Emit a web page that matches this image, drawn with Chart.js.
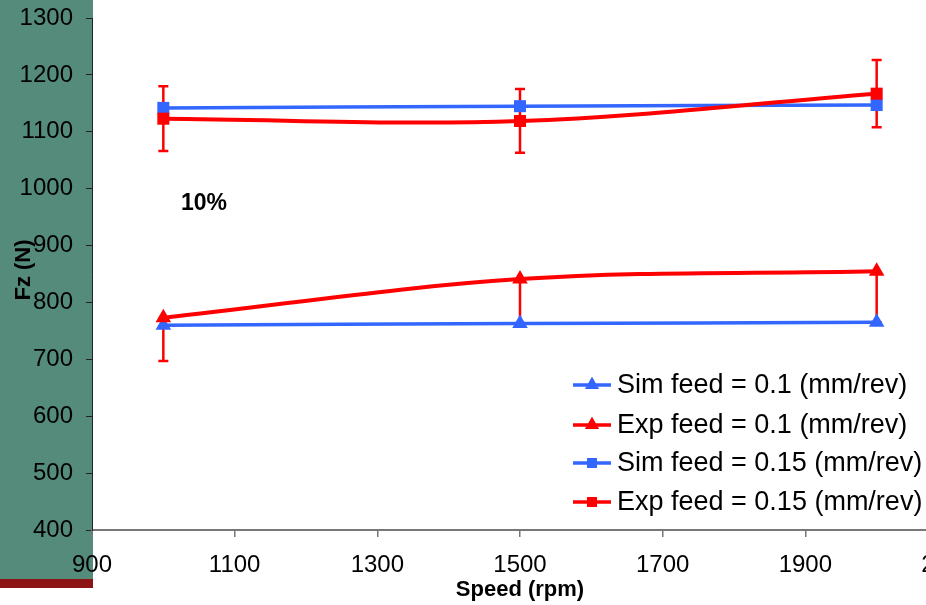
<!DOCTYPE html>
<html>
<head>
<meta charset="utf-8">
<title>Fz vs speed</title>
<script src="https://cdn.jsdelivr.net/npm/chart.js@4.4.1/dist/chart.umd.min.js"></script>
<style>
    html, body { margin: 0; padding: 0; background: #fff; overflow: hidden; }
    #wrap { width: 960px; height: 605px; }
</style>
</head>
<body>
<div id="wrap"><canvas id="fzChart" width="960" height="605"></canvas></div>
<script>
// Cutting speed (rpm) for every series
const speeds = [1000, 1500, 2000];

// Thrust force Fz (N)
const simFeed01 = [760, 763, 765];
const expFeed01 = [773, 841, 855];
const simFeed015 = [1142, 1145, 1147];
const expFeed015 = [1123, 1119, 1167];

// Error bars on the experimental runs
const expFeed01ErrMinus = [76, 78, 90];
const expFeed01ErrPlus = [0, 0, 0];
const expFeed015Err = [57, 56, 59];

const seriesLabels = [
    'Sim feed = 0.1 (mm/rev)',
    'Exp feed = 0.1 (mm/rev)',
    'Sim feed = 0.15 (mm/rev)',
    'Exp feed = 0.15 (mm/rev)'
];

const xTicks = [900, 1100, 1300, 1500, 1700, 1900, 2100];
const yTicks = [400, 500, 600, 700, 800, 900, 1000, 1100, 1200, 1300];

const BLUE = '#3366ff';
const RED = '#ff0000';
const FONT = '"Liberation Sans", Arial, sans-serif';

function toPoints(vals) {
    return speeds.map((s, i) => ({ x: s, y: vals[i] }));
}

function series(label, vals, color, style, radius, width, order) {
    return {
        label: label,
        data: toPoints(vals),
        borderColor: color,
        backgroundColor: color,
        pointBackgroundColor: color,
        pointBorderColor: color,
        pointBorderWidth: 0,
        borderWidth: width,
        pointStyle: style,
        pointRadius: radius,
        tension: 0.35,
        order: order
    };
}

const datasets = [
    series(seriesLabels[0], simFeed01, BLUE, 'triangle', 9, 3.5, 2),
    series(seriesLabels[1], expFeed01, RED, 'triangle', 9, 4, 1),
    series(seriesLabels[2], simFeed015, BLUE, 'rect', 8.5, 3.5, 2),
    series(seriesLabels[3], expFeed015, RED, 'rect', 8.5, 4, 1)
];

const errorBars = [
    { ds: 1, minus: expFeed01ErrMinus, plus: expFeed01ErrPlus },
    { ds: 3, minus: expFeed015Err, plus: expFeed015Err }
];

// teal strip on the left, titles, note and the error bars
const decorPlugin = {
    id: 'decor',
    beforeDraw(chart) {
        const c = chart.ctx;
        c.save();
        c.fillStyle = '#fff';
        c.fillRect(0, 0, chart.width, chart.height);
        c.fillStyle = '#548b7b';
        c.fillRect(0, 0, 93, 579);
        c.fillStyle = '#8c1414';
        c.fillRect(0, 579, 93, 9);
        c.restore();
    },
    beforeDatasetsDraw(chart) {
        const c = chart.ctx;
        const xs = chart.scales.x, ys = chart.scales.y;
        c.save();
        c.strokeStyle = RED;
        c.lineWidth = 2.5;
        errorBars.forEach(eb => {
            const vals = chart.data.datasets[eb.ds].data;
            vals.forEach((p, i) => {
                const px = xs.getPixelForValue(p.x);
                const top = ys.getPixelForValue(p.y + eb.plus[i]);
                const bot = ys.getPixelForValue(p.y - eb.minus[i]);
                c.beginPath();
                c.moveTo(px, top);
                c.lineTo(px, bot);
                if (eb.plus[i] > 0) {
                    c.moveTo(px - 5, top);
                    c.lineTo(px + 5, top);
                }
                c.moveTo(px - 5, bot);
                c.lineTo(px + 5, bot);
                c.stroke();
            });
        });
        c.restore();
    },
    afterDraw(chart) {
        const c = chart.ctx;
        c.save();
        c.fillStyle = '#000';
        c.textAlign = 'center';
        c.textBaseline = 'middle';
        c.font = 'bold 22px ' + FONT;
        c.fillText('Speed (rpm)', 520, 590);
        c.font = 'bold 23px ' + FONT;
        c.fillText('10%', 204, 204);
        c.font = 'bold 22px ' + FONT;
        c.translate(24, 270);
        c.rotate(-Math.PI / 2);
        c.fillText('Fz (N)', 0, 0);
        c.restore();

        // legend box in the lower right of the plot
        const rows = [385, 425, 463, 502];
        c.save();
        chart.data.datasets.forEach((ds, i) => {
            const y = rows[i];
            c.strokeStyle = ds.borderColor;
            c.lineWidth = 3.5;
            c.beginPath();
            c.moveTo(573, y);
            c.lineTo(611, y);
            c.stroke();
            c.fillStyle = ds.borderColor;
            Chart.helpers.drawPoint(c, {
                pointStyle: ds.pointStyle,
                radius: ds.pointStyle === 'rect' ? 7 : 8,
                rotation: 0,
                borderWidth: 0
            }, 592, y);
            c.fill();
            c.fillStyle = '#000';
            c.font = '27px ' + FONT;
            c.textAlign = 'left';
            c.textBaseline = 'middle';
            c.fillText(ds.label, 617, y + 1);
        });
        c.restore();
    }
};

const plainNumber = v => String(v);

new Chart(document.getElementById('fzChart'), {
    type: 'line',
    data: { datasets: datasets },
    options: {
        responsive: false,
        animation: false,
        layout: { padding: { top: 18, right: 12, left: 0, bottom: 0 } },
        plugins: {
            legend: { display: false },
            tooltip: { enabled: false }
        },
        scales: {
            x: {
                type: 'linear',
                min: xTicks[0],
                max: xTicks[xTicks.length - 1],
                afterBuildTicks: s => { s.ticks = xTicks.map(v => ({ value: v })); },
                afterFit: s => { s.height = 75; s.paddingLeft = 0; s.paddingRight = 0; },
                grid: { drawOnChartArea: false, drawTicks: true, tickLength: 7, color: '#777', lineWidth: 1.5 },
                border: { display: true, color: '#777', width: 2 },
                ticks: { color: '#000', padding: 14, maxRotation: 0, callback: plainNumber, font: { family: FONT, size: 24 } }
            },
            y: {
                min: yTicks[0],
                max: yTicks[yTicks.length - 1],
                afterBuildTicks: s => { s.ticks = yTicks.map(v => ({ value: v })); },
                afterFit: s => { s.width = 92; s.paddingTop = 0; s.paddingBottom = 0; },
                grid: { drawOnChartArea: false, drawTicks: true, tickLength: 6, color: '#222', lineWidth: 1 },
                border: { display: true, color: '#222', width: 1 },
                ticks: { color: '#000', padding: 13, callback: plainNumber, font: { family: FONT, size: 24 } }
            }
        }
    },
    plugins: [decorPlugin]
});
</script>
</body>
</html>
